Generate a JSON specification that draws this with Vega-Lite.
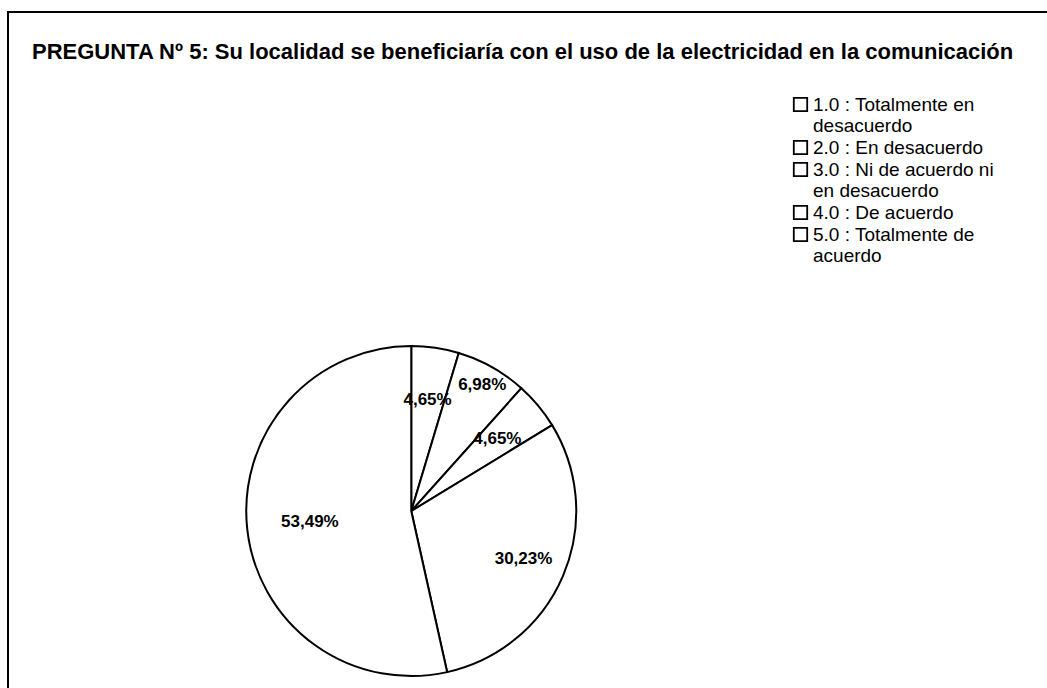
{
  "$schema": "https://vega.github.io/schema/vega-lite/v6.json",
  "width": 1047,
  "height": 688,
  "autosize": {"type": "fit", "contains": "padding"},
  "padding": {"left": 8, "top": 12, "right": -3, "bottom": -3},
  "background": "white",
  "view": {"stroke": "black", "strokeWidth": 2, "fill": "white"},
  "config": {
    "view": {"stroke": "black", "strokeWidth": 2},
    "locale": {"number": {"decimal": ",", "thousands": ".", "grouping": [3], "currency": ["", ""]}}
  },
  "title": {
    "text": "PREGUNTA Nº 5: Su localidad se beneficiaría con el uso de la electricidad en la comunicación",
    "anchor": "start",
    "frame": "group",
    "offset": -52,
    "dx": 24,
    "font": "Liberation Sans",
    "fontSize": 22,
    "fontWeight": "bold",
    "color": "black"
  },
  "data": {
    "values": [
      {"categoria": "1.0 : Totalmente en desacuerdo", "orden": 1, "porcentaje": 0.0465},
      {"categoria": "2.0 : En desacuerdo", "orden": 2, "porcentaje": 0.0698},
      {"categoria": "3.0 : Ni de acuerdo ni en desacuerdo", "orden": 3, "porcentaje": 0.0465},
      {"categoria": "4.0 : De acuerdo", "orden": 4, "porcentaje": 0.3023},
      {"categoria": "5.0 : Totalmente de acuerdo", "orden": 5, "porcentaje": 0.5349}
    ]
  },
  "encoding": {
    "theta": {"field": "porcentaje", "type": "quantitative", "stack": true},
    "order": {"field": "orden", "type": "quantitative"}
  },
  "layer": [
    {
      "mark": {"type": "arc", "stroke": "black", "strokeWidth": 2, "radius": 165, "x": {"expr": "width*0.387"}, "y": {"expr": "height*0.735"}},
      "encoding": {
        "color": {
          "field": "categoria",
          "type": "nominal",
          "scale": {"range": ["white", "white", "white", "white", "white"]},
          "legend": {
            "title": null,
            "orient": "none",
            "legendX": 783,
            "legendY": 83,
            "symbolType": "square",
            "symbolSize": 180,
            "symbolStrokeColor": "black",
            "symbolStrokeWidth": 1.8,
            "symbolFillColor": "white",
            "labelFont": "Liberation Sans",
            "labelFontSize": 19,
            "labelColor": "black",
            "labelOffset": 3,
            "labelLimit": 300,
            "rowPadding": 1,
            "labelExpr": "datum.label[0] == '1' ? ['1.0 : Totalmente en', 'desacuerdo'] : datum.label[0] == '3' ? ['3.0 : Ni de acuerdo ni', 'en desacuerdo'] : datum.label[0] == '5' ? ['5.0 : Totalmente de', 'acuerdo'] : datum.label"
          }
        }
      }
    },
    {
      "mark": {"type": "text", "radius": {"expr": "datum.orden == 2 ? 145 : datum.orden == 4 ? 122 : datum.porcentaje < 0.1 ? 112 : 102"}, "x": {"expr": "width*0.387"}, "y": {"expr": "height*0.735"}, "font": "Liberation Sans", "fontSize": 17, "fontWeight": "bold", "color": "black"},
      "encoding": {
        "text": {"field": "porcentaje", "type": "quantitative", "format": ".2%"}
      }
    }
  ]
}
